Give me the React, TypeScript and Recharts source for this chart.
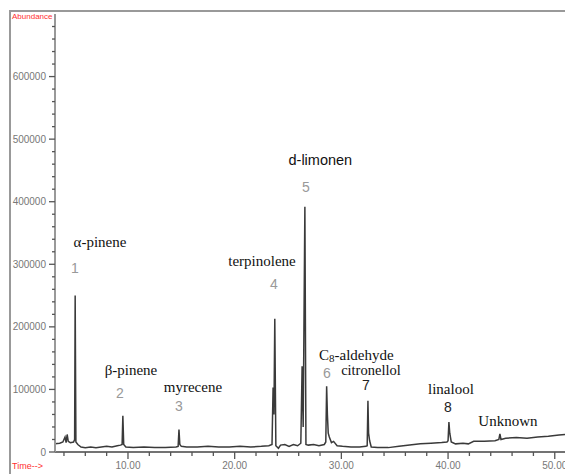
import { LineChart, Line, XAxis, YAxis, ReferenceDot } from "recharts";

// retention time (min) and abundance
const times = [
  3.16, 3.6, 3.9, 4.1, 4.2, 4.3, 4.4, 4.6, 4.9, 5.0, 5.05, 5.12, 5.3, 5.6, 6.0, 6.5, 7.0, 7.5, 8.0, 8.5,
  9.0, 9.3, 9.45, 9.52, 9.6, 9.8, 10.5, 11.5, 12.5, 13.5, 14.5, 14.7, 14.78, 14.86, 15.0, 15.5, 16.5, 17.5,
  18.5, 19.5, 20.5, 21.5, 22.5, 23.2, 23.5, 23.6, 23.68, 23.76, 23.86, 24.1, 24.3, 24.7, 25.1, 25.5, 25.9,
  26.2, 26.32, 26.42, 26.58, 26.68, 26.9, 27.4, 27.9, 28.4, 28.54, 28.62, 28.69, 28.77, 28.87, 29.07, 29.27,
  29.6, 30.1, 30.9, 31.7, 32.3, 32.42, 32.49, 32.55, 32.65, 32.8, 33.4, 34.4, 35.4, 36.4, 37.4, 38.4, 39.4,
  39.9, 40.0, 40.08, 40.16, 40.3, 40.7, 41.4, 41.9, 42.4, 43.4, 44.4, 44.76, 44.86, 44.96, 45.4, 46.4, 47.4,
  48.4, 49.4, 50.4, 50.96,
];
const abundance = [
  13000, 14000, 16000, 24000, 15000, 28000, 17000, 15000, 16000, 20000, 250000, 16000, 12000, 8000, 7000, 8000, 7000, 8000, 9000, 8000,
  10000, 11000, 12000, 58000, 12000, 8000, 7000, 8000, 7000, 7000, 8000, 9000, 36000, 12000, 9000, 8000, 8000, 9000,
  8000, 8000, 9000, 8000, 9000, 10000, 12000, 103000, 60000, 213000, 10000, 6000, 11000, 12000, 9000, 12000, 10000,
  14000, 137000, 40000, 392000, 12000, 11000, 12000, 10000, 12000, 16000, 105000, 60000, 30000, 24000, 15000, 17000,
  10000, 9000, 8000, 8000, 9000, 10000, 82000, 30000, 18000, 8000, 7000, 7000, 9000, 11000, 13000, 14000, 15000,
  16000, 18000, 48000, 30000, 16000, 13000, 14000, 13000, 17000, 17000, 18000, 20000, 29000, 20000, 22000, 23000, 22000,
  24000, 25000, 27000, 28000,
];

const yLabels = [0, 100000, 200000, 300000, 400000, 500000, 600000];
const xLabels = [10, 20, 30, 40, 50];

// peak annotations: name, number, label anchor in data coordinates
const peakNames = ["α-pinene", "β-pinene", "myrecene", "terpinolene", "d-limonen", "C8-aldehyde", "citronellol", "linalool", "Unknown"];
const nameTimes = [7.38, 10.28, 16.09, 22.56, 28.03, 31.4, 32.77, 40.27, 45.61];
const nameLevels = [328000, 123000, 96000, 297000, 458000, 147000, 123000, 92700, 41500];
const peakNumbers = ["1", "2", "3", "4", "5", "6", "7", "8"];
const numberTimes = [5.03, 9.25, 14.78, 23.68, 26.68, 28.65, 32.31, 39.99];
const numberLevels = [286000, 86000, 65500, 260000, 415500, 118000, 99500, 64000];

const data = times.map((t, i) => ({ t, v: abundance[i] }));
const yTicks = Array.from({ length: 35 }, (_, i) => i * 20000);
const xTicks = Array.from({ length: 24 }, (_, i) => 4 + i * 2);

function YTick({ x, y, payload }: any) {
  const major = payload.value % 100000 === 0;
  return (
    <g>
      <line x1={x - (major ? 6 : 3)} x2={x} y1={y} y2={y} stroke="#555" strokeWidth={1.3} />
      {yLabels.includes(payload.value) && (
        <text x={x - 9} y={y + 3.5} textAnchor="end" fontSize={10} fill="#777" fontFamily="Liberation Sans">
          {payload.value}
        </text>
      )}
    </g>
  );
}

function XTick({ x, y, payload }: any) {
  const major = xLabels.includes(payload.value);
  return (
    <g>
      <line x1={x} x2={x} y1={y} y2={y + (major ? 7 : 4)} stroke="#555" strokeWidth={1.3} />
      {major && (
        <text x={x} y={y + 17} textAnchor="middle" fontSize={10} fill="#777" fontFamily="Liberation Sans">
          {payload.value.toFixed(2)}
        </text>
      )}
    </g>
  );
}

function nameShape(name: string) {
  return (p: any) => {
    if (name === "d-limonen") {
      return (
        <text x={p.cx} y={p.cy} textAnchor="middle" fontSize={14.5} fill="#111" fontFamily="Liberation Sans">
          {name}
        </text>
      );
    }
    if (name.startsWith("C8")) {
      return (
        <text x={p.cx} y={p.cy} textAnchor="middle" fontSize={15} fill="#111" fontFamily="Liberation Serif">
          C<tspan fontSize={11} dy={2}>8</tspan>
          <tspan dy={-2}>{name.slice(2)}</tspan>
        </text>
      );
    }
    return (
      <text x={p.cx} y={p.cy} textAnchor="middle" fontSize={name === "citronellol" ? 14.5 : 15} fill="#111" fontFamily="Liberation Serif">
        {name}
      </text>
    );
  };
}

function numberShape(num: string) {
  return (p: any) => (
    <text
      x={p.cx}
      y={p.cy}
      textAnchor="middle"
      fontSize={14}
      fill={num === "7" || num === "8" ? "#222" : "#999"}
      fontFamily="Liberation Sans"
    >
      {num}
    </text>
  );
}

export default function App() {
  return (
    <div style={{ position: "absolute", left: 0, top: 0, width: 565, height: 474, background: "#fff" }}>
      <div
        style={{
          position: "absolute",
          left: 9,
          top: 10,
          width: 556,
          height: 464,
          borderTop: "2px solid #999",
          borderLeft: "2px solid #999",
        }}
      />
      <div style={{ position: "absolute", left: 12, top: 12, fontSize: 8, color: "#ff3030", fontFamily: "Liberation Sans" }}>
        Abundance
      </div>
      <div style={{ position: "absolute", left: 12, top: 461, fontSize: 9, color: "#ff3030", fontFamily: "Liberation Sans" }}>
        Time--&gt;
      </div>
      <div style={{ position: "absolute", left: 0, top: 0 }}>
        <LineChart width={565} height={474} data={data} margin={{ top: 14, right: 0, bottom: 0, left: 0 }}>
          <XAxis
            dataKey="t"
            type="number"
            domain={[3.16, 50.96]}
            allowDataOverflow
            ticks={xTicks}
            interval={0}
            tickSize={0}
            tickMargin={0}
            tick={<XTick />}
            height={22}
            axisLine={{ stroke: "#444", strokeWidth: 1.5 }}
          />
          <YAxis
            type="number"
            domain={[0, 700000]}
            allowDataOverflow
            ticks={yTicks}
            interval={0}
            tickSize={0}
            tickMargin={0}
            tick={<YTick />}
            width={55}
            axisLine={{ stroke: "#999", strokeWidth: 2 }}
          />
          <Line
            dataKey="v"
            type="linear"
            stroke="#3a3a3a"
            strokeWidth={1.5}
            dot={false}
            isAnimationActive={false}
          />
          {peakNames.map((n, i) => (
            <ReferenceDot key={n} x={nameTimes[i]} y={nameLevels[i]} r={0} ifOverflow="visible" shape={nameShape(n)} />
          ))}
          {peakNumbers.map((n, i) => (
            <ReferenceDot key={"n" + n} x={numberTimes[i]} y={numberLevels[i]} r={0} ifOverflow="visible" shape={numberShape(n)} />
          ))}
        </LineChart>
      </div>
    </div>
  );
}
